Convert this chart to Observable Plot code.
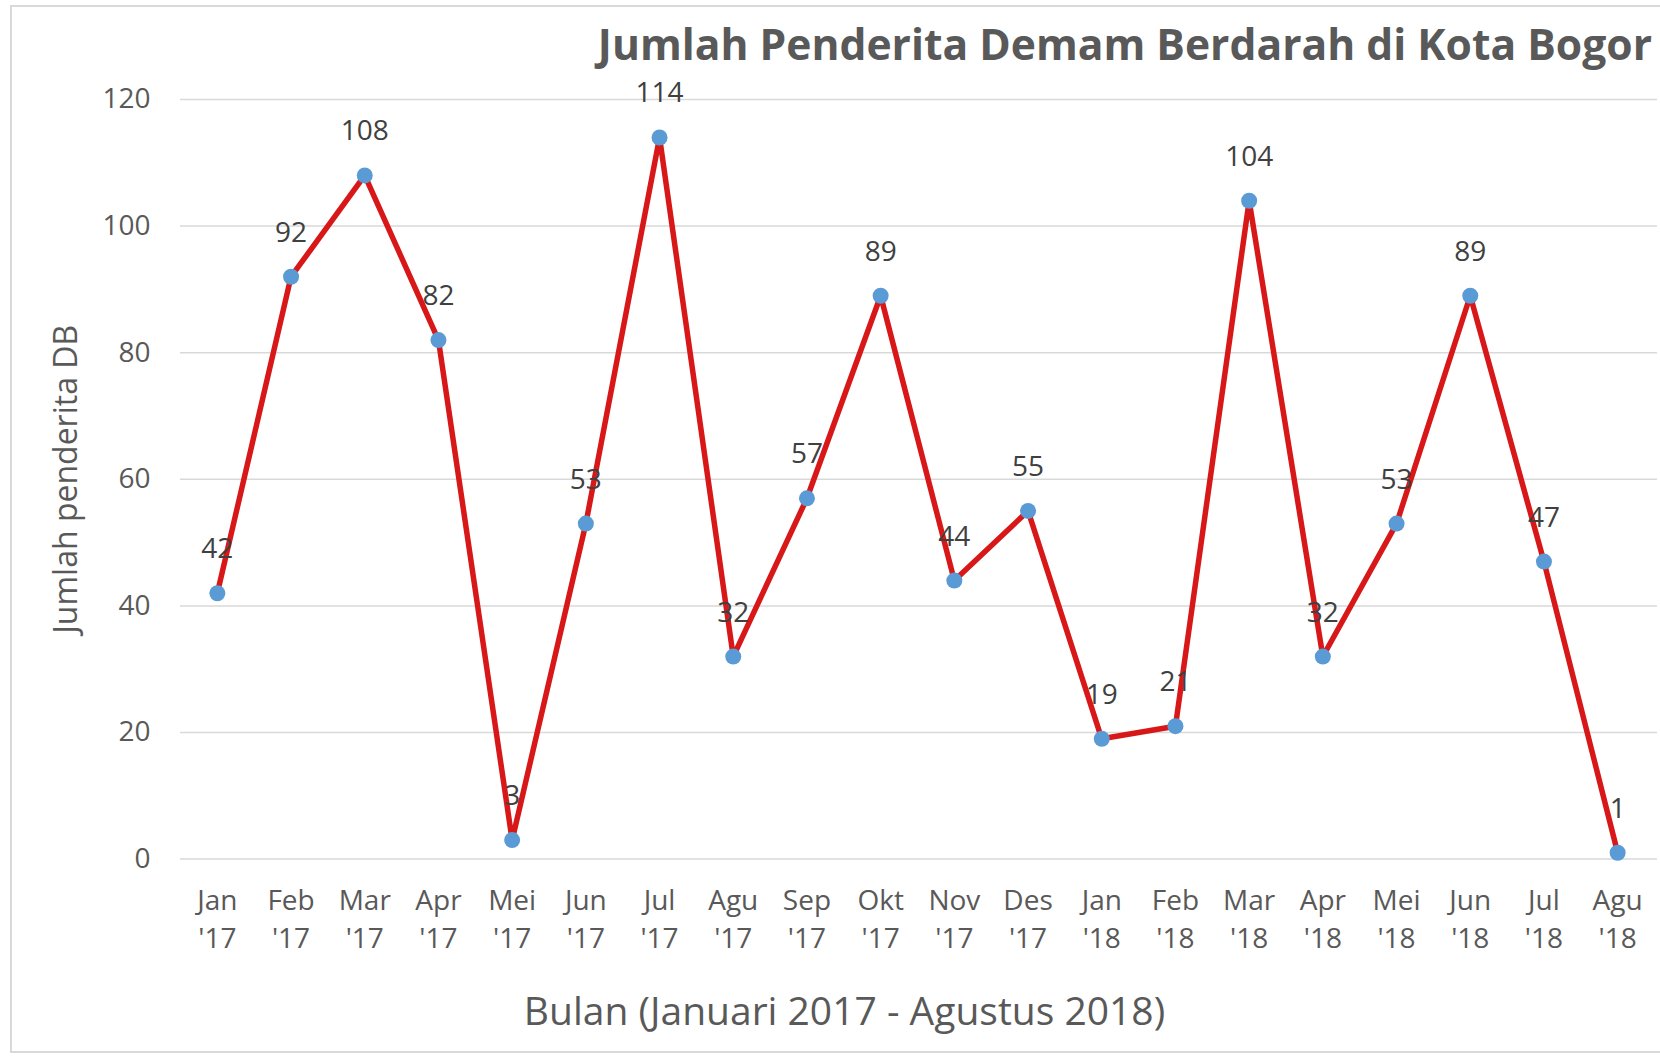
<!DOCTYPE html>
<html>
<head>
<meta charset="utf-8">
<script src="https://cdn.jsdelivr.net/npm/d3@7"></script>
<script src="https://cdn.jsdelivr.net/npm/@observablehq/plot@0.6"></script>
<style>
  html, body { margin: 0; padding: 0; background: #ffffff; overflow: hidden; }
  #wrap { position: relative; width: 1660px; height: 1056px; overflow: hidden; background: #fff; }
  #frame { position: absolute; left: 10px; top: 5px; width: 1700px; height: 1048px;
           border: 2px solid #d9d9d9; border-right: none; box-sizing: border-box; }
  #title { position: relative; height: 70px; line-height: 86px; text-align: right;
           padding-right: 8px; font-family: "Open Sans", sans-serif; font-weight: 700;
           font-size: 42.6px; color: #595959; white-space: nowrap; }
  #chart { position: relative; }
  #chart svg { display: block; }
</style>
</head>
<body>
<div id="wrap">
  <div id="frame"></div>
  <div id="title">Jumlah Penderita Demam Berdarah di Kota Bogor</div>
  <div id="chart"></div>
</div>
<script>
const months = ["Jan","Feb","Mar","Apr","Mei","Jun","Jul","Agu","Sep","Okt","Nov","Des",
                "Jan","Feb","Mar","Apr","Mei","Jun","Jul","Agu"];
const years = ["'17","'17","'17","'17","'17","'17","'17","'17","'17","'17","'17","'17",
               "'18","'18","'18","'18","'18","'18","'18","'18"];
const values = [42, 92, 108, 82, 3, 53, 114, 32, 57, 89, 44, 55, 19, 21, 104, 32, 53, 89, 47, 1];
const yTicks = [0, 20, 40, 60, 80, 100, 120];
const yTitle = "Jumlah penderita DB";
const xTitle = "Bulan (Januari 2017 - Agustus 2018)";

const labels = months.map((m, i) => m + "\n" + years[i]);
const data = values.map((v, i) => ({label: labels[i], value: v}));

const chart = Plot.plot({
  width: 1660,
  height: 986,
  marginTop: 29,
  marginBottom: 197.4,
  marginLeft: 180,
  marginRight: 6,
  style: {fontFamily: "'Open Sans', sans-serif", color: "#595959", background: "transparent"},
  x: {type: "point", domain: labels, padding: 0.5, round: false},
  y: {domain: [0, 120]},
  marks: [
    Plot.gridY(yTicks, {stroke: "#d9d9d9", strokeOpacity: 1, strokeWidth: 1.5, insetRight: -3}),
    Plot.axisY(yTicks, {tickSize: 0, tickPadding: 30, fontSize: 28, label: null}),
    Plot.axisX({tickSize: 0, tickPadding: 23, fontSize: 28, lineHeight: 1.38, label: null}),
    Plot.line(data, {x: "label", y: "value", stroke: "#d81818", strokeWidth: 5.5, strokeLinejoin: "round"}),
    Plot.dot(data, {x: "label", y: "value", r: 8, fill: "#5b9bd5", stroke: "none"}),
    Plot.text(data, {x: "label", y: "value", text: d => String(d.value), dy: -35, lineAnchor: "bottom",
                     fontSize: 28, fill: "#404040"}),
    Plot.text([yTitle], {frameAnchor: "left", textAnchor: "middle", dx: -114, rotate: -90, fontSize: 32, fill: "#595959"}),
    Plot.text([xTitle], {frameAnchor: "bottom", textAnchor: "middle", dx: -73, dy: 153, lineAnchor: "middle", fontSize: 39, fill: "#595959"})
  ]
});
document.getElementById("chart").appendChild(chart);
</script>
</body>
</html>
